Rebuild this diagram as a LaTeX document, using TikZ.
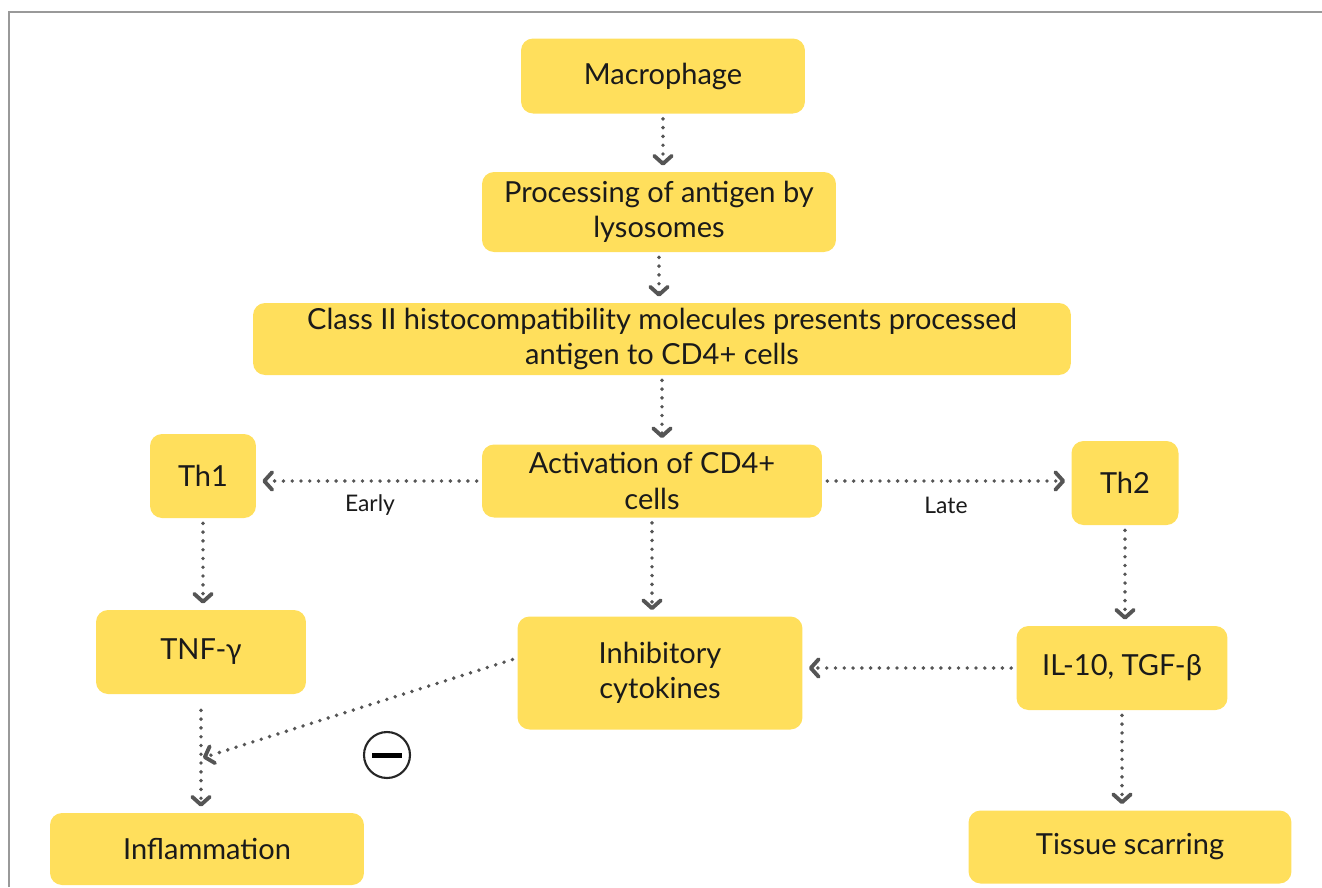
\documentclass[tikz,border=0pt]{standalone}
\usepackage{fontspec}
\setmainfont{Lato}
\usepackage{tikz}
\usetikzlibrary{arrows.meta}

\definecolor{boxyellow}{HTML}{FFDF5C}
\definecolor{arrowgray}{HTML}{555555}
\definecolor{txtblack}{HTML}{1A1A1A}

\tikzset{
  stepbox/.style={fill=boxyellow, rounded corners=0.24cm, inner sep=0pt,
    align=center, text=txtblack, font=\fontsize{16.5}{20}\selectfont},
  flow/.style={arrowgray, line width=2.2pt, line cap=round,
    dash pattern=on 0pt off 5pt,
    -{Straight Barb[round,length=4.5pt,width=10pt]},
    shorten <=0.1cm, shorten >=0.12cm},
  tag/.style={text=txtblack, font=\fontsize{13}{15}\selectfont}
}

\begin{document}
\begin{tikzpicture}[x=0.02cm,y=-0.02cm]
    \useasboundingbox (0,0) rectangle (1322,887);
    \draw[gray!80, line width=0.04cm] (9,887) -- (9,12) -- (1322,12);

    % boxes
    \node[stepbox, minimum width=5.68cm, minimum height=1.5cm]  (macro) at (663,76)  {Macrophage};
    \node[stepbox, minimum width=7.08cm, minimum height=1.6cm]  (proc)  at (659,212) {Processing of antigen by\\lysosomes};
    \node[stepbox, minimum width=16.36cm, minimum height=1.44cm] (mhc)  at (662,339) {Class II histocompatibility molecules presents processed\\antigen to CD4+ cells};
    \node[stepbox, minimum width=6.8cm, minimum height=1.46cm]  (act)   at (652,481) {Activation of CD4+\\cells};
    \node[stepbox, minimum width=2.12cm, minimum height=1.68cm] (th1)   at (203,476) {Th1};
    \node[stepbox, minimum width=2.14cm, minimum height=1.68cm] (th2)   at (1125,483) {Th2};
    \node[stepbox, minimum width=4.2cm, minimum height=1.68cm]  (tnf)   at (201,652) {TNF-γ};
    \node[stepbox, minimum width=5.7cm, minimum height=2.26cm]  (inh)   at (660,673) {Inhibitory\\cytokines};
    \node[stepbox, minimum width=4.22cm, minimum height=1.68cm] (il)    at (1122,668) {IL-10, TGF-β};
    \node[stepbox, minimum width=6.28cm, minimum height=1.44cm] (infl)  at (207,849) {Inflammation};
    \node[stepbox, minimum width=6.46cm, minimum height=1.46cm] (scar)  at (1130,847) {Tissue scarring};

    \node[tag] (early) at (370,505) {Early};
    \node[tag] (late)  at (946,505) {Late};

    \coordinate (meet) at (202,758);
    \node[draw=black!85, line width=1.2pt, circle, minimum size=0.92cm, inner sep=0pt] (minus) at (387,755) {};
    \draw[black, line width=0.1cm] ([xshift=-0.3cm]minus.center) -- ([xshift=0.3cm]minus.center);

    % arrows
    \draw[flow] (macro.south) -- (macro.south |- proc.north);
    \draw[flow] (proc.south) -- (proc.south |- mhc.north);
    \draw[flow] (mhc.south) -- (mhc.south |- act.north);
    \draw[flow] (act.west) -- (act.west -| th1.east);
    \draw[flow] (act.east) -- (act.east -| th2.west);
    \draw[flow] (th1.south) -- (th1.south |- tnf.north);
    \draw[flow] (act.south) -- (act.south |- inh.north);
    \draw[flow] (th2.south) -- (th2.south |- il.north);
    \draw[flow] (il.west) -- (il.west -| inh.east);
    \draw[flow, shorten <=0.32cm] (tnf.south) -- (tnf.south |- infl.north);
    \draw[flow, shorten >=0.02cm] ([yshift=0.3cm]inh.west) -- (meet);
    \draw[flow] (il.south) -- (il.south |- scar.north);

  \end{tikzpicture}
\end{document}
